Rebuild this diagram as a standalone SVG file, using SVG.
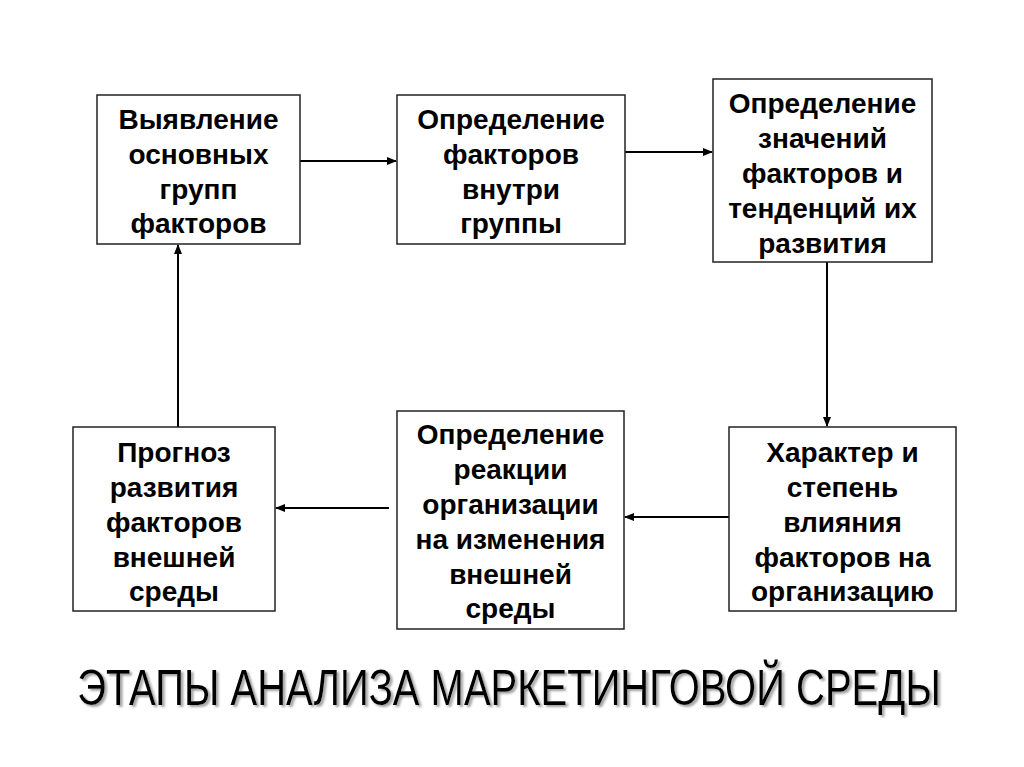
<svg xmlns="http://www.w3.org/2000/svg" width="1024" height="767" viewBox="0 0 1024 767">
<defs>
<style>
.box{fill:#fff;stroke:#222;stroke-width:1.5}
.t{font-family:"Liberation Sans",Arial,sans-serif;font-weight:bold;font-size:28px;fill:#000;text-anchor:middle}
.c{stroke:#000;stroke-width:2;fill:none}
.title{font-family:"Liberation Sans",Arial,sans-serif;font-size:50px;text-anchor:middle}
</style>
<filter id="sh" x="-5%" y="-30%" width="110%" height="160%">
<feDropShadow dx="3" dy="2" stdDeviation="1.2" flood-color="#888" flood-opacity="0.8"/>
</filter>
<marker id="ah" markerWidth="10" markerHeight="8" refX="9" refY="4" orient="auto" markerUnits="userSpaceOnUse">
<path d="M0,0 L10,4 L0,8 Z" fill="#000"/>
</marker>
</defs>
<rect width="1024" height="767" fill="#fff"/>
<g id="connectors">
<line class="c" x1="300" y1="161" x2="396" y2="161" marker-end="url(#ah)"/>
<line class="c" x1="625" y1="152" x2="712" y2="152" marker-end="url(#ah)"/>
<line class="c" x1="827" y1="262" x2="827" y2="426" marker-end="url(#ah)"/>
<line class="c" x1="729" y1="517" x2="625" y2="517" marker-end="url(#ah)"/>
<line class="c" x1="389" y1="508" x2="276" y2="508" marker-end="url(#ah)"/>
<line class="c" x1="178" y1="427" x2="178" y2="245" marker-end="url(#ah)"/>
</g>
<g id="n1">
<rect class="box" x="97" y="95" width="203" height="149"/>
<text class="t"><tspan x="198.5" y="129">Выявление</tspan><tspan x="198.5" y="164">основных</tspan><tspan x="198.5" y="199">групп</tspan><tspan x="198.5" y="233">факторов</tspan></text>
</g>
<g id="n2">
<rect class="box" x="397" y="95" width="228" height="149"/>
<text class="t"><tspan x="511" y="129">Определение</tspan><tspan x="511" y="164">факторов</tspan><tspan x="511" y="199">внутри</tspan><tspan x="511" y="233">группы</tspan></text>
</g>
<g id="n3">
<rect class="box" x="713" y="79" width="219" height="183"/>
<text class="t"><tspan x="822.5" y="113">Определение</tspan><tspan x="822.5" y="148">значений</tspan><tspan x="822.5" y="183">факторов и</tspan><tspan x="822.5" y="218">тенденций их</tspan><tspan x="822.5" y="253">развития</tspan></text>
</g>
<g id="n4">
<rect class="box" x="73" y="427" width="202" height="184"/>
<text class="t"><tspan x="174" y="462">Прогноз</tspan><tspan x="174" y="497">развития</tspan><tspan x="174" y="532">факторов</tspan><tspan x="174" y="567">внешней</tspan><tspan x="174" y="601">среды</tspan></text>
</g>
<g id="n5">
<rect class="box" x="397" y="411" width="227" height="218"/>
<text class="t"><tspan x="510.5" y="444">Определение</tspan><tspan x="510.5" y="479">реакции</tspan><tspan x="510.5" y="514">организации</tspan><tspan x="510.5" y="549">на изменения</tspan><tspan x="510.5" y="584">внешней</tspan><tspan x="510.5" y="618">среды</tspan></text>
</g>
<g id="n6">
<rect class="box" x="729" y="427" width="227" height="184"/>
<text class="t"><tspan x="842.5" y="462">Характер и</tspan><tspan x="842.5" y="497">степень</tspan><tspan x="842.5" y="532">влияния</tspan><tspan x="842.5" y="567">факторов на</tspan><tspan x="842.5" y="601">организацию</tspan></text>
</g>
<g id="title">
<text class="title" x="0" y="0" fill="#000" filter="url(#sh)" transform="translate(509,705) scale(0.80,1)">ЭТАПЫ АНАЛИЗА МАРКЕТИНГОВОЙ СРЕДЫ</text>
</g>
</svg>
